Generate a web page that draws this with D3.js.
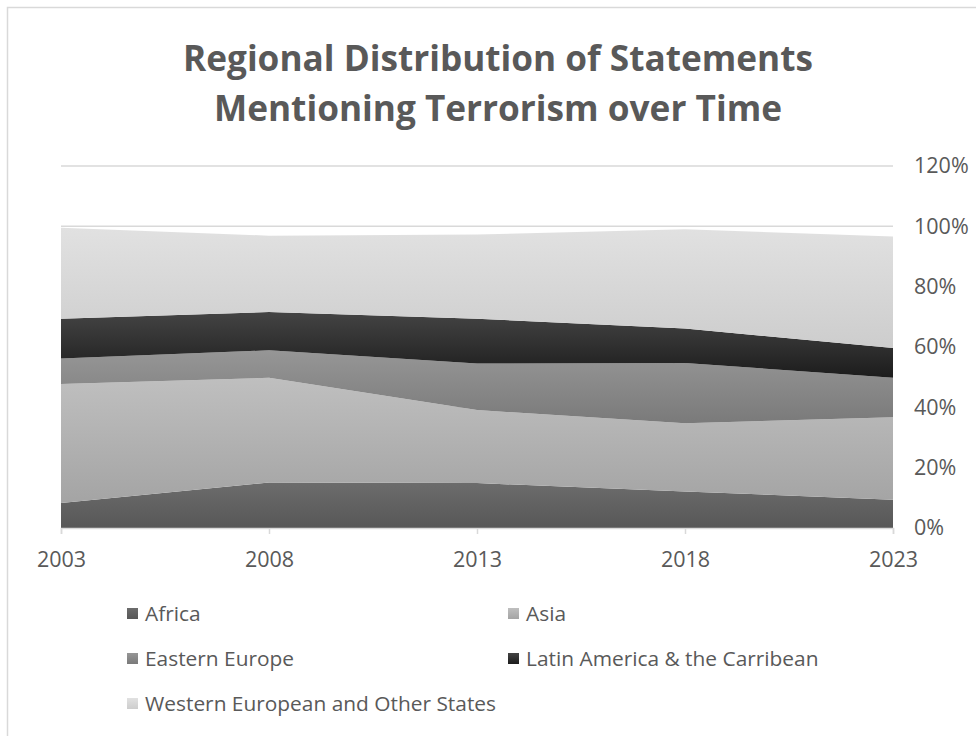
<!DOCTYPE html>
<html>
<head>
<meta charset="utf-8">
<script src="https://cdn.jsdelivr.net/npm/d3@7"></script>
<style>
  body { margin: 0; background: #fff; }
  svg { display: block; font-family: 'Open Sans', sans-serif; }
</style>
</head>
<body>
<div id="viz"></div>
<script>
// values, in percent of statements
const years = [2003, 2008, 2013, 2018, 2023];
const regions = ['Africa', 'Asia', 'Eastern Europe', 'Latin America & the Carribean', 'Western European and Other States'];
const africa = [8.3, 15.1, 14.9, 12.1, 9.4];
const asia = [39.4, 34.7, 24.2, 22.6, 27.3];
const easternEurope = [8.5, 9.1, 15.4, 20.0, 13.1];
const latinAmerica = [13.2, 12.7, 14.9, 11.4, 9.9];
const westernEurope = [30.1, 25.3, 27.9, 32.9, 36.9];
const yTicks = [0, 20, 40, 60, 80, 100, 120];

const series = [africa, asia, easternEurope, latinAmerica, westernEurope];
// gradient top / bottom per region
const shades = [
  ['#6c6c6c', '#575757'],
  ['#bfbfbf', '#a4a4a4'],
  ['#969696', '#7a7a7a'],
  ['#444444', '#1c1c1c'],
  ['#e1e1e1', '#cdcdcd']
];

const width = 976, height = 736;
const margin = { top: 166, right: 83, bottom: 208, left: 61 };
const textColor = '#595959';

const rows = years.map((y, i) => {
  const r = { year: y };
  regions.forEach((name, k) => r[name] = series[k][i]);
  return r;
});

const svg = d3.select('#viz')
  .append('svg')
  .attr('width', width)
  .attr('height', height);

const defs = svg.append('defs');
shades.forEach((s, k) => {
  const grad = defs.append('linearGradient')
    .attr('id', 'grad' + k)
    .attr('x1', 0).attr('y1', 0).attr('x2', 0).attr('y2', 1);
  grad.append('stop').attr('offset', '0%').attr('stop-color', s[0]);
  grad.append('stop').attr('offset', '100%').attr('stop-color', s[1]);
});

// chart border
svg.append('rect')
  .attr('x', 7.5).attr('y', 7.5)
  .attr('width', width + 20).attr('height', height + 20)
  .attr('fill', 'none')
  .attr('stroke', '#d9d9d9')
  .attr('stroke-width', 1.5);

const xScale = d3.scaleLinear()
  .domain([years[0], years[years.length - 1]])
  .range([margin.left, width - margin.right]);

const yScale = d3.scaleLinear()
  .domain([0, 120])
  .range([height - margin.bottom, margin.top]);

// gridlines
svg.append('g')
  .selectAll('line')
  .data(yTicks.slice(1))
  .enter().append('line')
  .attr('x1', xScale.range()[0])
  .attr('x2', xScale.range()[1])
  .attr('y1', d => yScale(d))
  .attr('y2', d => yScale(d))
  .attr('stroke', '#d9d9d9')
  .attr('stroke-width', 1.5);

const stack = d3.stack().keys(regions);
const layers = stack(rows);

const area = d3.area()
  .x(d => xScale(d.data.year))
  .y0(d => yScale(d[0]))
  .y1(d => yScale(d[1]));

svg.append('g')
  .selectAll('path')
  .data(layers)
  .enter().append('path')
  .attr('d', area)
  .attr('fill', (d, i) => 'url(#grad' + i + ')');

// x axis
const xAxis = svg.append('g')
  .attr('transform', 'translate(0,' + yScale(0) + ')')
  .call(d3.axisBottom(xScale).tickValues(years).tickFormat(d3.format('d')).tickSize(6).tickPadding(18));
xAxis.select('.domain').attr('stroke', '#d9d9d9').attr('stroke-width', 1.5);
xAxis.selectAll('.tick line').attr('stroke', '#d9d9d9').attr('stroke-width', 1.5);
xAxis.selectAll('text')
  .attr('fill', textColor)
  .style('font-family', 'Open Sans')
  .style('font-size', '21.5px');

// y axis on the right, no line
const yAxis = svg.append('g')
  .attr('transform', 'translate(' + (xScale.range()[1] + 21) + ',0)')
  .call(d3.axisRight(yScale).tickValues(yTicks).tickFormat(d => d + '%').tickSize(0).tickPadding(0));
yAxis.select('.domain').remove();
yAxis.selectAll('text')
  .attr('fill', textColor)
  .style('font-family', 'Open Sans')
  .style('font-size', '21.5px');

// title
const titleLines = [
  ['Regional Distribution of Statements', 71, 630],
  ['Mentioning Terrorism over Time', 121, 568]
];
svg.append('g')
  .selectAll('text')
  .data(titleLines)
  .enter().append('text')
  .attr('x', 498)
  .attr('y', d => d[1])
  .attr('text-anchor', 'middle')
  .attr('fill', textColor)
  .style('font-size', '35px')
  .style('font-weight', 'bold')
  .attr('textLength', d => d[2])
  .attr('lengthAdjust', 'spacingAndGlyphs')
  .text(d => d[0]);

// legend
const legendPos = [[127, 614], [508, 614], [127, 659], [508, 659], [127, 704]];
const legend = svg.append('g')
  .selectAll('g')
  .data(regions)
  .enter().append('g')
  .attr('transform', (d, i) => 'translate(' + legendPos[i][0] + ',' + legendPos[i][1] + ')');

legend.append('rect')
  .attr('x', 0).attr('y', -6)
  .attr('width', 11).attr('height', 11)
  .attr('fill', (d, i) => 'url(#grad' + i + ')');

const legendText = legend.append('text')
  .attr('x', 18)
  .attr('y', 7)
  .attr('fill', textColor)
  .style('font-size', '19.5px')
  .text(d => d);

// stretch legend labels a little so the longest one spans like the original
const longest = legendText.filter((d, i) => i === 4).node().getComputedTextLength();
const stretch = 351 / longest;
legendText.each(function () {
  const w = this.getComputedTextLength();
  d3.select(this)
    .attr('textLength', w * stretch)
    .attr('lengthAdjust', 'spacingAndGlyphs');
});
</script>
</body>
</html>
